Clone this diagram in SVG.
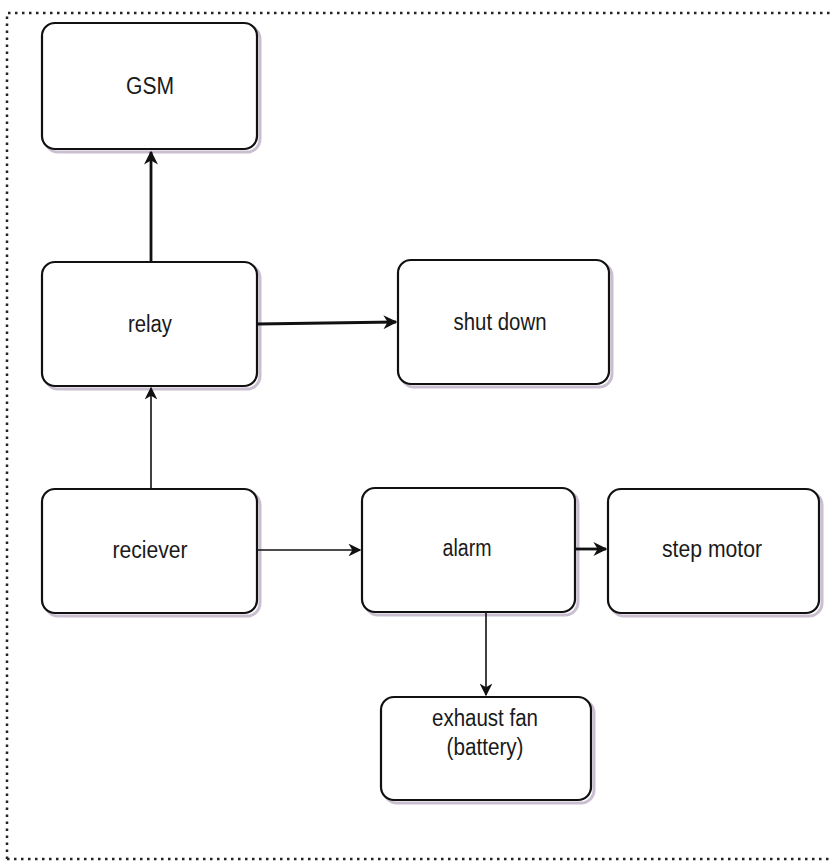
<svg xmlns="http://www.w3.org/2000/svg" width="831" height="865" viewBox="0 0 831 865">
<defs>
<style>
.box{fill:#fff;stroke:#111;stroke-width:2.2}
.shadow{fill:none;stroke:#c9bfd0;stroke-width:3}
.lbl{font-family:"Liberation Sans",Arial,sans-serif;font-size:23px;fill:#1a1a1a;text-anchor:middle}
.thick{stroke:#111;stroke-width:2.8;fill:none}
.thin{stroke:#111;stroke-width:1.6;fill:none}
</style>
<marker id="ah" viewBox="0 0 10 10" refX="9" refY="5" markerWidth="5" markerHeight="5" markerUnits="strokeWidth" orient="auto">
<path d="M0,0 L10,5 L0,10 L3,5 Z" fill="#111"/>
</marker>
<marker id="ah2" viewBox="0 0 10 10" refX="9" refY="5" markerWidth="8" markerHeight="8" markerUnits="strokeWidth" orient="auto">
<path d="M0,0 L10,5 L0,10 L3,5 Z" fill="#111"/>
</marker>
</defs>
<rect width="831" height="865" fill="#fff"/>
<path d="M7,859 L7,13 L831,13 M7,859 L831,859" fill="none" stroke="#222" stroke-width="2.5" stroke-dasharray="2.5,4.5"/>
<g id="gsm"><rect class="shadow" x="45" y="26" width="215" height="126" rx="13"/><rect class="box" x="42" y="23" width="215" height="126" rx="13"/><text class="lbl" x="150" y="94" textLength="48" lengthAdjust="spacingAndGlyphs">GSM</text></g>
<g id="relay"><rect class="shadow" x="45" y="265" width="215" height="124" rx="13"/><rect class="box" x="42" y="262" width="215" height="124" rx="13"/><text class="lbl" x="150" y="332" textLength="44" lengthAdjust="spacingAndGlyphs">relay</text></g>
<g id="shutdown"><rect class="shadow" x="401" y="263" width="211" height="124" rx="13"/><rect class="box" x="398" y="260" width="211" height="124" rx="13"/><text class="lbl" x="500" y="330" textLength="93" lengthAdjust="spacingAndGlyphs">shut down</text></g>
<g id="reciever"><rect class="shadow" x="45" y="492" width="215" height="124" rx="13"/><rect class="box" x="42" y="489" width="215" height="124" rx="13"/><text class="lbl" x="150" y="558" textLength="75" lengthAdjust="spacingAndGlyphs">reciever</text></g>
<g id="alarm"><rect class="shadow" x="365" y="491" width="213" height="124" rx="13"/><rect class="box" x="362" y="488" width="213" height="124" rx="13"/><text class="lbl" x="467" y="556" textLength="49" lengthAdjust="spacingAndGlyphs">alarm</text></g>
<g id="stepmotor"><rect class="shadow" x="611" y="492" width="211" height="124" rx="13"/><rect class="box" x="608" y="489" width="211" height="124" rx="13"/><text class="lbl" x="712" y="557" textLength="100" lengthAdjust="spacingAndGlyphs">step motor</text></g>
<g id="exhaustfan"><rect class="shadow" x="384" y="700" width="210" height="103" rx="13"/><rect class="box" x="381" y="697" width="210" height="103" rx="13"/><text class="lbl" x="485" y="726" textLength="106" lengthAdjust="spacingAndGlyphs">exhaust fan</text><text class="lbl" x="485" y="755" textLength="77" lengthAdjust="spacingAndGlyphs">(battery)</text></g>
<g id="connectors">
<line class="thick" x1="151" y1="262" x2="151" y2="152" marker-end="url(#ah)"/>
<line class="thin" x1="151" y1="489" x2="151" y2="388" marker-end="url(#ah2)"/>
<line class="thick" x1="257" y1="324" x2="396" y2="322" marker-end="url(#ah)"/>
<line class="thin" x1="257" y1="550" x2="360" y2="550" marker-end="url(#ah2)"/>
<line class="thick" x1="575" y1="549" x2="606" y2="549" marker-end="url(#ah)"/>
<line class="thin" x1="486" y1="612" x2="486" y2="695" marker-end="url(#ah2)"/>
</g>
</svg>
